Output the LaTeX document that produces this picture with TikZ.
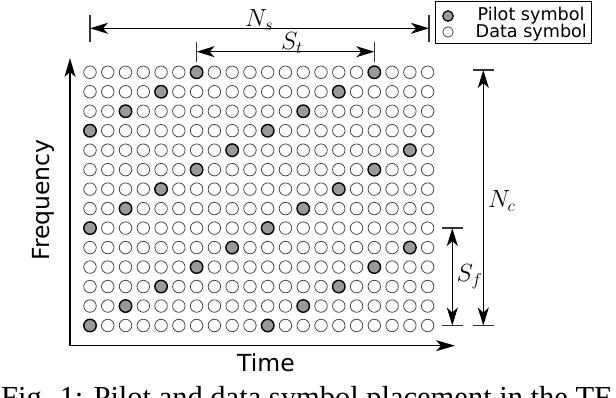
\documentclass[tikz,border=0pt]{standalone}
\usepackage{fontspec}
\usetikzlibrary{arrows.meta, calc}
\newfontfamily\labelfont{DejaVu Sans}
\newfontfamily\captionfont{Liberation Serif}
\definecolor{PilotGray}{HTML}{999999}
\definecolor{RingGray}{HTML}{404040}
\definecolor{TickGray}{HTML}{333333}

\begin{document}
\begin{tikzpicture}[x=1pt, y=-1pt,
  data/.style={circle, draw=RingGray, line width=0.75pt, fill=white, minimum size=12.5pt, inner sep=0pt},
  pilot/.style={data, draw=black, line width=1.4pt, fill=PilotGray},
  axis/.style={line width=1.2pt, {Stealth[length=19pt, width=11pt, inset=5pt]}-{Stealth[length=19pt, width=11pt, inset=5pt]}},
  dim/.style={line width=1.2pt, {Stealth[length=18pt, width=11pt, inset=5pt]}-{Stealth[length=18pt, width=11pt, inset=5pt]}},
  tick/.style={line width=1.4pt, TickGray},
  mlabel/.style={inner sep=0pt, anchor=base west, font=\fontsize{25}{29}\selectfont},
  axlabel/.style={inner sep=0pt, font=\labelfont\fontsize{23.5}{27}\selectfont},
  legtext/.style={inner sep=0pt, anchor=west, font=\labelfont\fontsize{17.6}{20}\selectfont}
]
\useasboundingbox (0,0) rectangle (616,398);

% TF grid: pilots every 10 symbols, shifted by 2 per subcarrier
\foreach \r in {0,...,13} {
  \foreach \c in {0,...,19} {
    \pgfmathtruncatemacro{\shift}{mod(2*\r,10)}
    \pgfmathtruncatemacro{\pos}{mod(\c,10)}
    \ifnum\pos=\shift
      \node[pilot] (p-\c-\r) at ({90+17.77*\c}, {325.5-19.48*\r}) {};
    \else
      \node[data] (p-\c-\r) at ({90+17.77*\c}, {325.5-19.48*\r}) {};
    \fi
  }
}

% Axes
\coordinate (origin) at (70,345.7);
\coordinate (faxis) at (70,58);
\coordinate (taxis) at (455,345.7);
\draw[axis] (faxis) -- (origin) -- (taxis);
\node[axlabel, rotate=90] (freq) at (43.5,200) {Frequency};
\node[axlabel, anchor=base] (time) at (266,371.5) {Time};

% N_s
\coordinate (ns) at (0,28.3);
\coordinate (ns-l) at (p-0-13 |- ns);
\coordinate (ns-r) at ($(p-19-13 |- ns)+(1.3,0)$);
\draw[tick] (ns-l) ++(0,-13.3) -- ++(0,26.7);
\draw[tick] (ns-r) ++(0,-13.3) -- ++(0,26.7);
\draw[dim] (ns-l) -- (ns-r);
\node[mlabel] (ns-label) at (245,26.5) {$N_s$};

% S_t
\coordinate (st) at (0,51.7);
\coordinate (st-l) at (p-6-13 |- st);
\coordinate (st-r) at (p-16-13 |- st);
\draw[tick] (st-l) ++(0,-10) -- ++(0,20);
\draw[tick] (st-r) ++(0,-10) -- ++(0,20);
\draw[dim] (st-l) -- (st-r);
\node[mlabel] (st-label) at (281,50) {$S_t$};

% N_c
\coordinate (nc) at (483.3,0);
\coordinate (nc-t) at ($(p-0-13 -| nc)+(0,-2.3)$);
\coordinate (nc-b) at (p-0-0 -| nc);
\draw[tick] (nc-t) ++(-10.3,0) -- ++(20.6,0);
\draw[tick] (nc-b) ++(-10.3,0) -- ++(20.6,0);
\draw[dim] (nc-t) -- (nc-b);
\node[mlabel] (nc-label) at (488,208) {$N_c$};

% S_f
\coordinate (sf) at (452.3,0);
\coordinate (sf-t) at (p-0-5 -| sf);
\coordinate (sf-b) at (p-0-0 -| sf);
\draw[tick] (sf-t) ++(-10.5,0) -- ++(21,0);
\draw[tick] (sf-b) ++(-10.5,0) -- ++(21,0);
\draw[dim] (sf-t) -- (sf-b);
\node[mlabel] (sf-label) at (456.5,282) {$S_f$};

% Legend
\node[draw, line width=0.9pt, minimum width=156pt, minimum height=42pt, inner sep=0pt] (legend) at (513.5,22) {};
\node[pilot, minimum size=10.5pt, line width=1.2pt] (leg-pilot) at (448,16) {};
\node[data, minimum size=10.5pt] (leg-data) at (448,32) {};
\node[legtext] (leg-ptext) at (477.5,15.5) {Pilot symbol};
\node[legtext] (leg-dtext) at (475.5,32.5) {Data symbol};

% Caption (cut by the page edge)
\node[inner sep=0pt, anchor=base west, font=\captionfont\fontsize{30.5}{34}\selectfont] (caption) at (1,407.5) {Fig. 1: Pilot and data symbol placement in the TF-};
\end{tikzpicture}
\end{document}
